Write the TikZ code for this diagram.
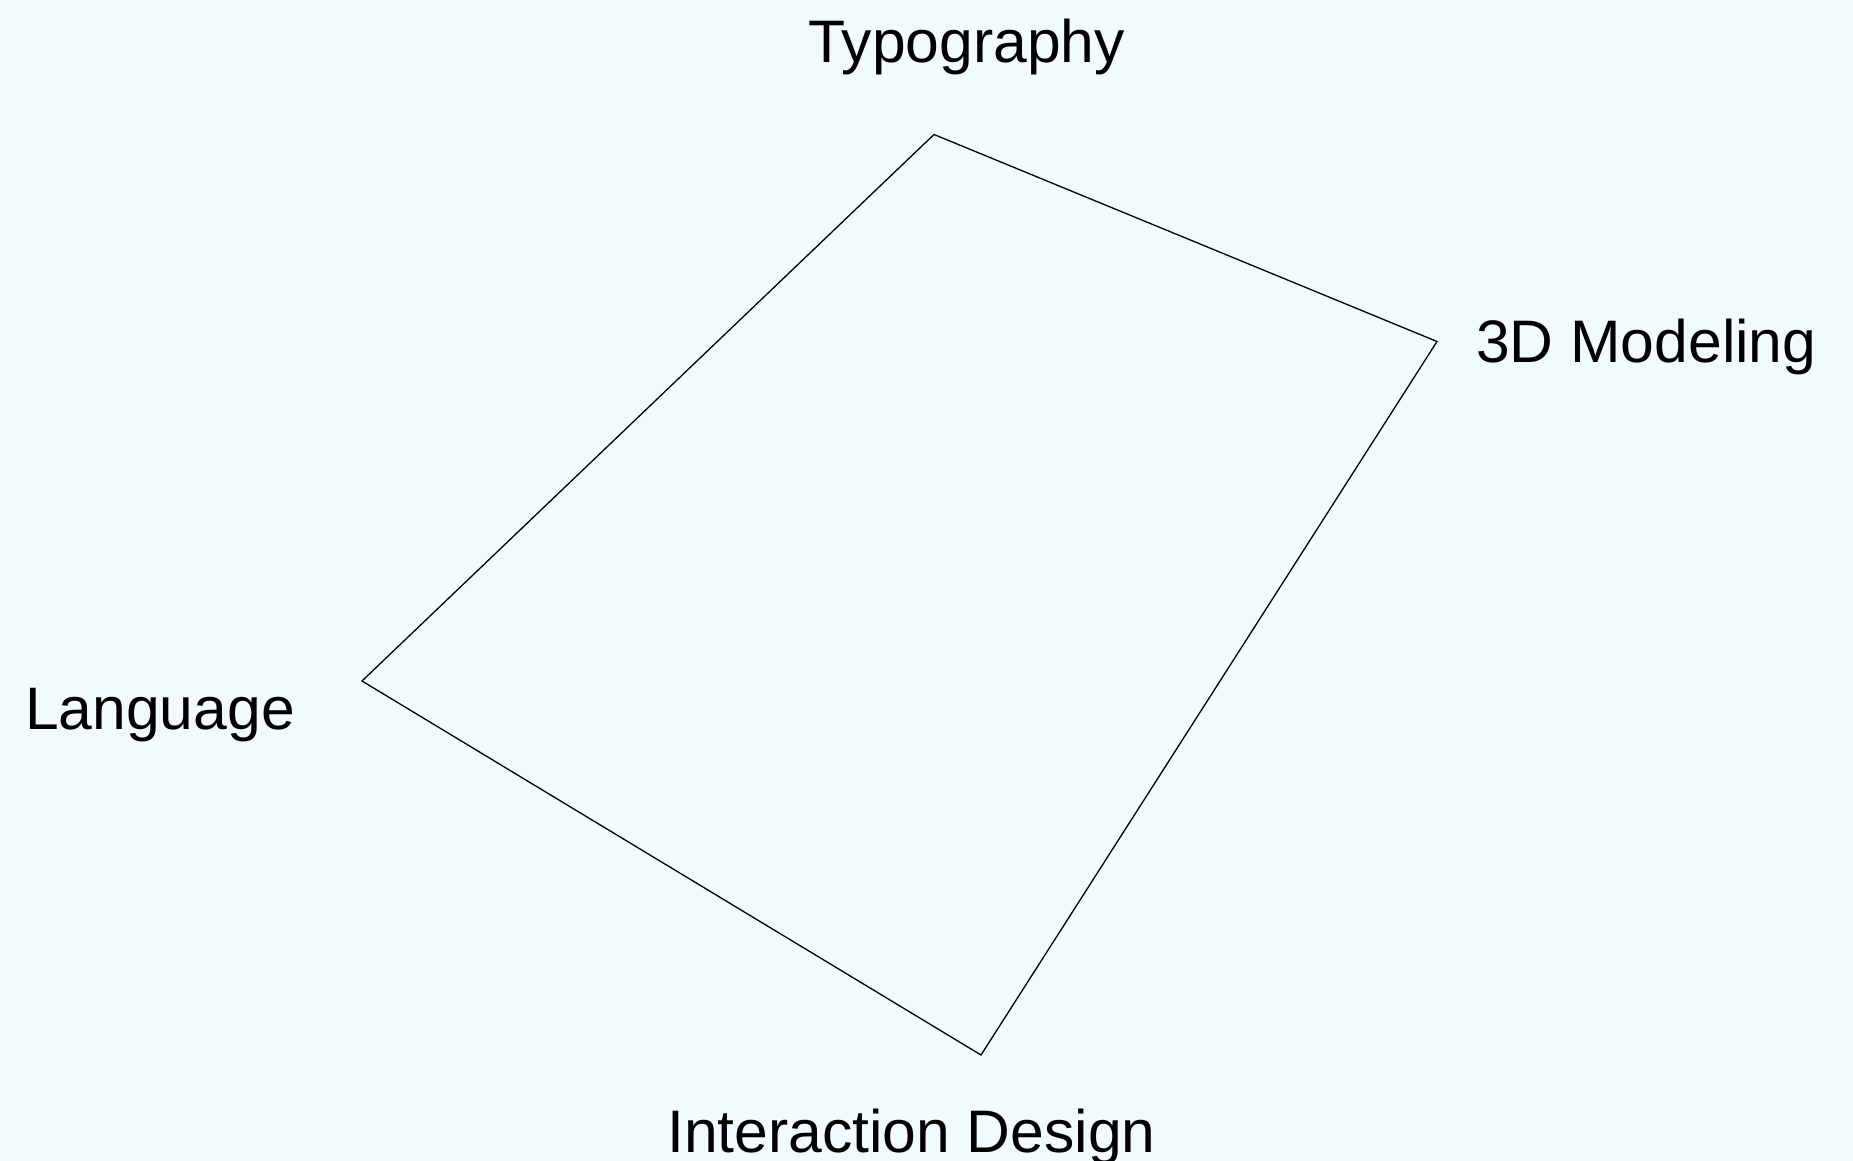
\documentclass[tikz,border=0pt]{standalone}
\usepackage{fontspec}
\setmainfont{Liberation Sans}[FakeStretch=1.01]
\definecolor{paper}{RGB}{241,250,253}
\begin{document}
\begin{tikzpicture}[x=1pt,y=-1pt,
  axislabel/.style={font=\fontsize{60}{72}\selectfont, text=black, inner sep=0pt, anchor=base west},
  frame/.style={draw=black, line width=1.3pt, line join=miter}]
  % canvas
  \fill[paper] (0,0) rectangle (1853,1161);
  \useasboundingbox (0,0) rectangle (1853,1161);
  % corners of the quadrilateral
  \coordinate (t) at (934,134.5);
  \coordinate (r) at (1437,341.5);
  \coordinate (b) at (981,1055);
  \coordinate (l) at (362,681);
  \draw[frame] (t) -- (r) -- (b) -- (l) -- cycle;
  % axis labels
  \node[axislabel] (typo) at (808,63) {Typography};
  \node[axislabel] (model) at (1476,362) {3D Modeling};
  \node[axislabel] (lang) at (25,729) {Language};
  \node[axislabel] (inter) at (667,1152) {Interaction Design};
\end{tikzpicture}
\end{document}
